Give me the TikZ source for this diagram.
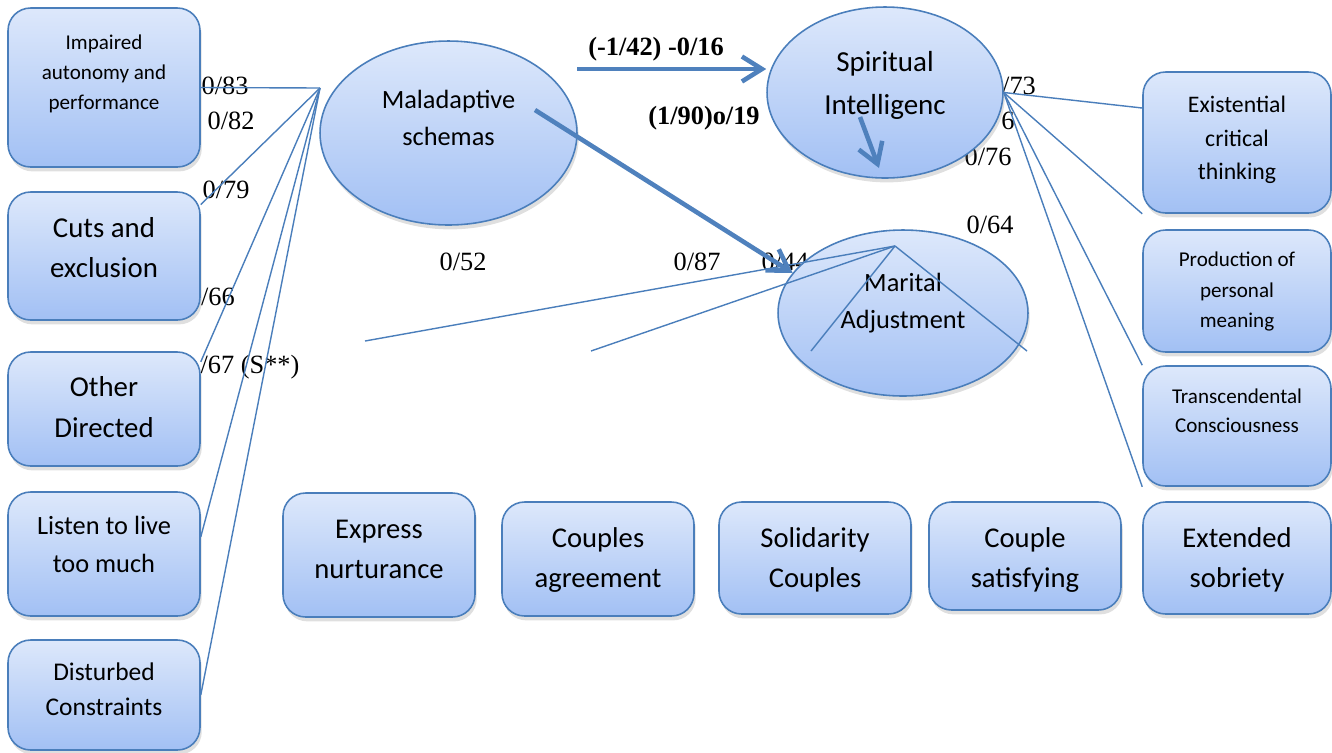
\documentclass[tikz,border=0pt]{standalone}
\usepackage{fontspec}
\setmainfont{Carlito}
\newfontfamily\numfont{Liberation Serif}
\usetikzlibrary{
  arrows.meta,
  shadows,
  shapes.geometric
}
\definecolor{edge}{HTML}{4A7EBB}
\definecolor{fillhi}{HTML}{DDE8FB}
\definecolor{filllo}{HTML}{A2C0F4}
\definecolor{pathblue}{HTML}{4F81BD}
\newcommand{\lift}[2]{\raisebox{#1}[0pt][0pt]{\begin{tabular}{@{}c@{}}#2\end{tabular}}}
\tikzset{
  txt/.style 2 args={
    font=\fontsize{#1}{#2}\selectfont
  },
  factor/.style={
    rectangle,
    rounded corners=0.45cm,
    draw=edge,
    line width=0.9pt,
    top color=fillhi,
    bottom color=filllo,
    drop shadow={shadow xshift=1pt, shadow yshift=-2.5pt, opacity=0.25},
    inner sep=0pt,
    minimum width=3.84cm
  },
  latent/.style={
    ellipse,
    draw=edge,
    line width=0.9pt,
    top color=fillhi,
    bottom color=filllo,
    drop shadow={shadow xshift=1pt, shadow yshift=-2.5pt, opacity=0.25},
    inner sep=0pt
  },
  loading/.style={
    draw=edge,
    line width=0.8pt
  },
  effect/.style={
    -{Straight Barb[length=4mm, width=5mm]},
    draw=pathblue,
    line width=2.6pt
  },
  coef/.style={
    font=\numfont\fontsize{15}{18}\selectfont,
    inner sep=0pt
  },
  coefbold/.style={
    font=\numfont\bfseries\fontsize{15}{18}\selectfont,
    inner sep=0pt
  }
}

\begin{document}
\begin{tikzpicture}[x=0.02cm, y=-0.02cm]
  \useasboundingbox (0,0) rectangle (1332,752);

  % coefficients (drawn first, boxes cover them)
  \node[coef] (c83) at (225,86) {0/83};
  \node[coef] (c82) at (231,121) {0/82};
  \node[coef] (c79) at (226,190) {0/79};
  \node[coef] (c66) at (218,297) {/66};
  \node[coef] (c67) at (250,367) {/67 (S**)};
  \node[coef] (c52) at (463,262) {0/52};
  \node[coef] (c87) at (697,262) {0/87};
  \node[coef] (c44) at (785,262) {0/44};
  \node[coef] (c64) at (990,225) {0/64};
  \node[coef] (c73) at (1019,86) {/73};
  \node[coef] (c6) at (1008,121) {6};
  \node[coef] (c76) at (988,157) {0/76};
  \node[coefbold] (b1) at (656,49) {(-1/42) -0/16};
  \node[coefbold] (b2) at (704,118) {(1/90)o/19};

  % maladaptive schema factors
  \node[factor, minimum height=3.18cm, txt={12}{17}] (imp) at (104,87.5)
    {\lift{4.9pt}{Impaired\\autonomy and\\performance}};
  \node[factor, minimum height=2.56cm, txt={16.4}{22.8}] (cuts) at (104,256)
    {\lift{-0.6pt}{Cuts and\\exclusion}};
  \node[factor, minimum height=2.28cm, txt={16.4}{23.3}] (oth) at (104,409)
    {\lift{-4.3pt}{Other\\Directed}};
  \node[factor, minimum height=2.48cm, txt={15}{21.6}] (lis) at (104,554)
    {\lift{0.9pt}{Listen to live\\too much}};
  \node[factor, minimum height=2.2cm, txt={14.5}{20}] (dis) at (104,695)
    {\lift{-1.4pt}{Disturbed\\Constraints}};

  % marital adjustment factors
  \node[factor, minimum height=2.48cm, txt={16.3}{22.8}] (exp) at (379,555)
    {\lift{-1.7pt}{Express\\nurturance}};
  \node[factor, minimum height=2.28cm, txt={16.3}{22.8}] (agr) at (598,559)
    {\lift{-4.4pt}{Couples\\agreement}};
  \node[factor, minimum height=2.24cm, txt={16.3}{22.8}] (sol) at (815,558)
    {\lift{-5.1pt}{Solidarity\\Couples}};
  \node[factor, minimum height=2.16cm, txt={16.3}{22.8}] (sat) at (1025,556)
    {\lift{-6.4pt}{Couple\\satisfying}};

  % spiritual intelligence factors
  \node[factor, minimum width=3.76cm, minimum height=2.24cm, txt={16.3}{22.8}] (ext) at (1237,558)
    {\lift{-5.1pt}{Extended\\sobriety}};
  \node[factor, minimum width=3.76cm, minimum height=2.82cm, txt={13.5}{19}] (exi) at (1237,142.5)
    {\lift{-1.8pt}{Existential\\critical\\thinking}};
  \node[factor, minimum width=3.76cm, minimum height=2.44cm, txt={12}{17.3}] (pro) at (1237,291)
    {\lift{-3pt}{Production of\\personal\\meaning}};
  \node[factor, minimum width=3.76cm, minimum height=2.4cm, txt={12}{16.5}] (tra) at (1237,426)
    {\lift{4.9pt}{Transcendental\\Consciousness}};

  % latent variables
  \node[latent, minimum width=5.14cm, minimum height=3.68cm, txt={15}{21}] (mal) at (448.5,133)
    {\lift{3.9pt}{Maladaptive\\schemas}};
  \node[latent, minimum width=4.72cm, minimum height=3.42cm, txt={16.5}{24}] (spi) at (885,92.5)
    {\lift{0.2pt}{Spiritual\\Intelligenc}};
  \node[latent, minimum width=5cm, minimum height=3.32cm, txt={15}{21}] (mar) at (903,313)
    {\lift{2.3pt}{Marital\\Adjustment}};

  % loadings
  \coordinate (mhub) at (320,88);
  \foreach \t in {imp.east, cuts.28, oth.26, lis.10, dis.east}
    \draw[loading] (mhub) -- (\t);

  \coordinate (ahub) at (895,246);
  \coordinate (m1) at (365,341);
  \coordinate (m2) at (591,351);
  \coordinate (m3) at (811,351);
  \coordinate (m4) at (1027,351);
  \foreach \i in {1,...,4}
    \draw[loading] (ahub) -- (m\i);

  \foreach \t in {exi.160, exi.south west, tra.north west, tra.south west}
    \draw[loading] (spi.east) -- (\t);

  % paths
  \coordinate (p1) at (577,69);
  \coordinate (p2) at (535,110);
  \coordinate (p3) at (860,117);
  \coordinate (p4) at (879,168);
  \draw[effect] (p1) -- (p1 -| spi.west);
  \draw[effect] (p2) -- (mar.160);
  \draw[effect] (p3) -- (p4);
\end{tikzpicture}
\end{document}
